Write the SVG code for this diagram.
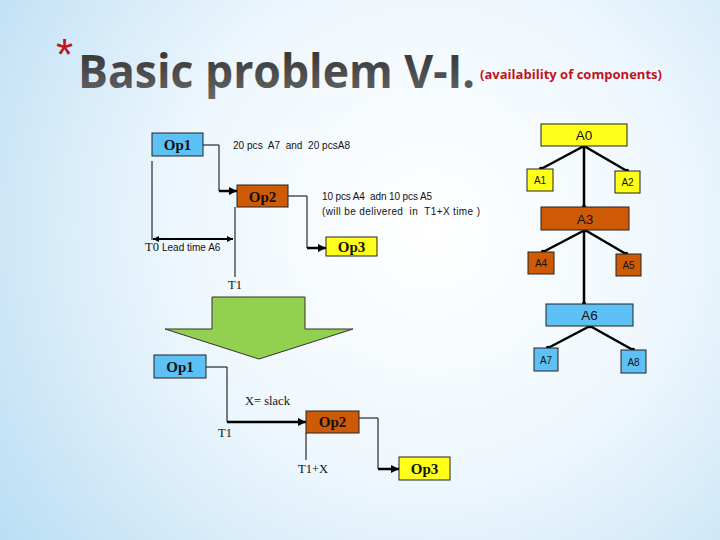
<svg xmlns="http://www.w3.org/2000/svg" width="720" height="540" viewBox="0 0 720 540">
<defs>
<radialGradient id="bg" cx="430" cy="230" r="560" gradientUnits="userSpaceOnUse">
<stop offset="0" stop-color="#FFFFFF"/>
<stop offset="0.45" stop-color="#EEF7FD"/>
<stop offset="1" stop-color="#B5DBF3"/>
</radialGradient>
<linearGradient id="tg" x1="0" y1="0" x2="0" y2="1">
<stop offset="0" stop-color="#2A2A2A"/>
<stop offset="1" stop-color="#6A6A6A"/>
</linearGradient>
<marker id="ah" markerUnits="userSpaceOnUse" markerWidth="9" markerHeight="9" refX="8" refY="4.5" orient="auto">
<path d="M0,0.5 L8,4.5 L0,8.5 z" fill="#000"/>
</marker>
<marker id="ahs" markerUnits="userSpaceOnUse" markerWidth="7" markerHeight="7" refX="6" refY="3.5" orient="auto-start-reverse">
<path d="M0,0.5 L6,3.5 L0,6.5 z" fill="#000"/>
</marker>
<marker id="dot" markerUnits="userSpaceOnUse" markerWidth="6" markerHeight="6" refX="3" refY="3">
<circle cx="3" cy="3" r="2.2" fill="#000"/>
</marker>
<style>
.box{stroke:#222;stroke-width:1}
.blue{fill:#5EC1F6}
.yel{fill:#FFFF1A}
.org{fill:#CF5A06}
.op{font-family:"Liberation Serif",serif;font-weight:bold;font-size:15px;fill:#111;text-anchor:middle}
.al{font-family:"Liberation Sans",sans-serif;font-size:13.5px;fill:#111;text-anchor:middle}
.as{font-family:"Liberation Sans",sans-serif;font-size:10px;fill:#111;text-anchor:middle}
.sm{font-family:"Liberation Sans",sans-serif;font-size:10px;fill:#111}
.sr{font-family:"Liberation Serif",serif;font-size:12.5px;fill:#111}
.thin{stroke:#000;stroke-width:1;fill:none}
.thick{stroke:#000;stroke-width:2.5;fill:none}
.tree{stroke:#000;stroke-width:2.5;fill:none;marker-start:url(#dot);marker-end:url(#dot)}
</style>
</defs>
<rect x="0" y="0" width="720" height="540" fill="url(#bg)"/>

<g id="title">
<text x="56" y="70" font-family="Liberation Sans, sans-serif" font-size="44" fill="#C0141C">*</text>
<text x="78" y="88" font-family="Open Sans, sans-serif" font-weight="bold" font-size="46" fill="url(#tg)" textLength="397" lengthAdjust="spacingAndGlyphs">Basic problem V-I.</text>
<text x="480" y="79" font-family="Open Sans, sans-serif" font-weight="bold" font-size="12" fill="#C0141C" textLength="182" lengthAdjust="spacingAndGlyphs">(availability of components)</text>
</g>

<g id="connectors">
<polyline class="thin" points="203,145 219,145 219,191"/>
<line class="thick" x1="219" y1="191" x2="237" y2="191" marker-end="url(#ah)"/>
<polyline class="thin" points="288,196 307,196 307,248"/>
<line class="thick" x1="307" y1="248" x2="326" y2="248" marker-end="url(#ah)"/>
<line class="thin" x1="152" y1="161" x2="152" y2="240"/>
<line class="thin" x1="235" y1="207" x2="235" y2="277"/>
<line stroke="#000" stroke-width="2.2" x1="153" y1="239" x2="233" y2="239" marker-start="url(#ahs)" marker-end="url(#ahs)"/>
<line class="tree" x1="584" y1="146" x2="541" y2="169"/>
<line class="tree" x1="584" y1="146" x2="627" y2="171"/>
<line class="tree" x1="584" y1="146" x2="584" y2="207"/>
<line class="tree" x1="585" y1="230" x2="543" y2="252"/>
<line class="tree" x1="585" y1="230" x2="626" y2="254"/>
<line class="tree" x1="584" y1="230" x2="584" y2="304"/>
<line class="tree" x1="590" y1="326" x2="548" y2="348"/>
<line class="tree" x1="590" y1="326" x2="633" y2="350"/>
<polyline class="thin" points="206,367 227,367 227,422"/>
<line class="thick" x1="227" y1="422" x2="306" y2="422" marker-end="url(#ah)"/>
<polyline class="thin" points="359,418 378,418 378,469"/>
<line class="thick" x1="378" y1="469" x2="399" y2="469" marker-end="url(#ah)"/>
<line class="thin" x1="306" y1="433" x2="306" y2="460"/>
</g>

<g id="labels">
<text class="sm" x="233" y="149" xml:space="preserve" textLength="117">20 pcs  A7  and  20 pcsA8</text>
<text class="sm" x="322" y="200" xml:space="preserve" textLength="110">10 pcs A4  adn 10 pcs A5</text>
<text class="sm" x="322" y="215" xml:space="preserve" textLength="158">(will be delivered  in  T1+X time )</text>
<text class="sr" x="145" y="251">T0</text>
<text class="sm" x="162" y="251">Lead time A6</text>
<text class="sr" x="228" y="289">T1</text>
<text class="sr" x="245" y="405">X= slack</text>
<text class="sr" x="218" y="437">T1</text>
<text class="sr" x="298" y="473">T1+X</text>
</g>

<g id="op1-top"><rect class="box blue" x="152" y="133" width="51" height="23"/><text class="op" x="177.5" y="150">Op1</text></g>
<g id="op2-top"><rect class="box org" x="237" y="185" width="51" height="22"/><text class="op" x="262.5" y="201.5">Op2</text></g>
<g id="op3-top"><rect class="box yel" x="326" y="237" width="51" height="19"/><text class="op" x="351.5" y="252">Op3</text></g>

<g id="A0"><rect class="box yel" x="541" y="124" width="86" height="22"/><text class="al" x="584" y="140">A0</text></g>
<g id="A1"><rect class="box yel" x="527" y="169" width="26" height="22"/><text class="as" x="540" y="184">A1</text></g>
<g id="A2"><rect class="box yel" x="615" y="171" width="25" height="22"/><text class="as" x="627.5" y="186">A2</text></g>
<g id="A3"><rect class="box org" x="541" y="207" width="88" height="23"/><text class="al" x="585" y="223.5">A3</text></g>
<g id="A4"><rect class="box org" x="528" y="252" width="26" height="22"/><text class="as" x="541" y="267">A4</text></g>
<g id="A5"><rect class="box org" x="616" y="254" width="25" height="22"/><text class="as" x="628.5" y="269">A5</text></g>
<g id="A6"><rect class="box blue" x="546" y="304" width="87" height="22"/><text class="al" x="589.5" y="320">A6</text></g>
<g id="A7"><rect class="box blue" x="534" y="348" width="24" height="23"/><text class="as" x="546" y="363.5">A7</text></g>
<g id="A8"><rect class="box blue" x="621" y="350" width="25" height="23"/><text class="as" x="633.5" y="365.5">A8</text></g>

<g id="big-arrow"><polygon points="212,297 305,297 305,329 353,329 259,359 165,329 212,329" fill="#92D050" stroke="#333" stroke-width="1"/></g>

<g id="op1-bottom"><rect class="box blue" x="154" y="355" width="52" height="23"/><text class="op" x="180" y="372">Op1</text></g>
<g id="op2-bottom"><rect class="box org" x="306" y="411" width="53" height="22"/><text class="op" x="332.5" y="427">Op2</text></g>
<g id="op3-bottom"><rect class="box yel" x="399" y="457" width="51" height="23"/><text class="op" x="424.5" y="474">Op3</text></g>
</svg>
